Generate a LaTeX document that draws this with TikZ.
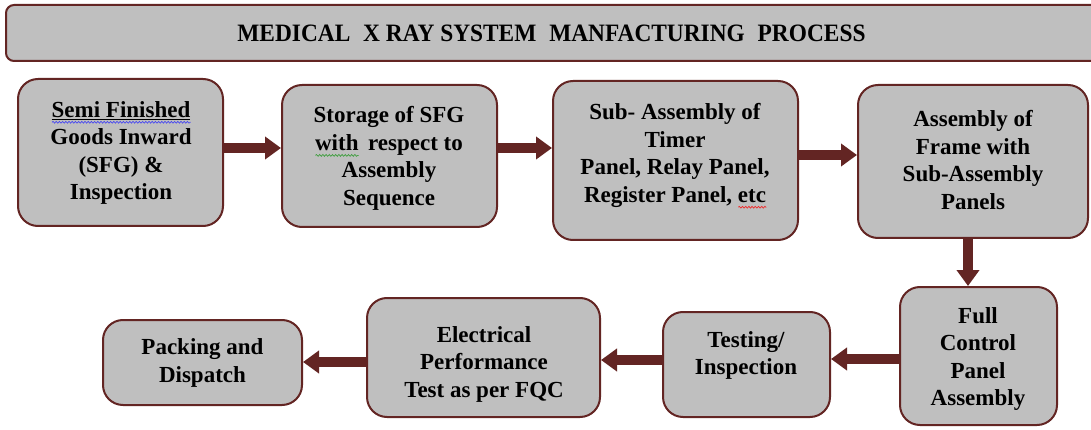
\documentclass[tikz,border=0pt]{standalone}
\usepackage{fontspec}
\setmainfont{Liberation Serif}
\usepackage{graphicx}
\usetikzlibrary{arrows.meta,decorations.pathmorphing}
\definecolor{brd}{HTML}{632523}
\definecolor{boxgray}{HTML}{BFBFBF}
\definecolor{wblue}{HTML}{4A4AF0}
\definecolor{wgreen}{HTML}{3E9E3E}
\definecolor{wred}{HTML}{F02828}
\newsavebox\sqbox
\newlength\sqlen
\newcommand\sqw[2]{\sbox\sqbox{#2}\setlength\sqlen{\wd\sqbox}%
  \rlap{\raisebox{-5pt}{\tikz[x=1pt,y=1pt,baseline=0pt]\draw[#1, line width=0.7pt, decorate, decoration={snake, amplitude=0.9pt, segment length=3.2pt}] (0pt,0pt) -- (\sqlen,0pt);}}\usebox\sqbox}
\begin{document}
\begin{tikzpicture}[x=1pt,y=-1pt,
  box/.style={draw=brd, line width=2pt, fill=boxgray, rounded corners=20pt, inner sep=0pt},
  titlebox/.style={draw=brd, line width=2pt, fill=boxgray, rounded corners=8pt, inner sep=0pt},
  txt/.style={font=\bfseries\fontsize{23}{27.5}\selectfont, align=center, inner sep=0pt},
  arr/.style={draw=brd, line width=9.5pt, -{Triangle[width=22pt,length=16pt]}}]
\useasboundingbox (0,0) rectangle (1091,430);
\clip (0,0) rectangle (1091,430);
% title
\node[titlebox, minimum width=1094pt, minimum height=56pt] (title) at (553,33) {};
\node[font=\bfseries\fontsize{25}{30}\selectfont, inner sep=0pt] (titletxt) at (551.5,33)
  {\scalebox{0.935}[1]{MEDICAL\hspace{0.3em} X RAY SYSTEM\hspace{0.3em} MANFACTURING\hspace{0.3em} PROCESS}};
% boxes
\node[box, minimum width=205pt, minimum height=147pt] (b1) at (120.5,152.5) {};
\node[box, minimum width=215pt, minimum height=142pt] (b2) at (389.5,156) {};
\node[box, minimum width=245pt, minimum height=159pt] (b3) at (675.5,160.5) {};
\node[box, minimum width=230pt, minimum height=153pt] (b4) at (973,161.5) {};
\node[box, minimum width=157pt, minimum height=138pt] (b5) at (978.5,356) {};
\node[box, minimum width=167pt, minimum height=105pt] (b6) at (746.5,364.5) {};
\node[box, minimum width=233pt, minimum height=119pt] (b7) at (483.5,357.5) {};
\node[box, minimum width=199pt, minimum height=85pt] (b8) at (202.5,362.5) {};
% texts
\node[txt] (t1) at (121,153) {\sqw{wblue}{\underline{Semi Finished}}\\Goods Inward\\(SFG) \&\\Inspection};
\node[txt] (t2) at (389,158.5) {Storage of SFG\\\sqw{wgreen}{with}\ \,respect to\\Assembly\\Sequence};
\node[txt] (t3) at (675,156) {Sub- Assembly of\\Timer\\Panel, Relay Panel,\\Register Panel, \sqw{wred}{etc}};
\node[txt] (t4) at (973,160) {Assembly of\\Frame with\\Sub-Assembly\\Panels};
\node[txt] (t5) at (978,359) {Full\\Control\\Panel\\Assembly};
\node[txt] (t6) at (746,355.5) {Testing/\\Inspection};
\node[txt] (t7) at (484,364) {Electrical\\Performance\\Test as per FQC};
\node[txt] (t8) at (202.5,363) {Packing and\\Dispatch};
% arrows
\draw[arr] (b1.east |- 0,148) -- (b2.west |- 0,148);
\draw[arr] (b2.east |- 0,148) -- (b3.west |- 0,148);
\draw[arr] (b3.east |- 0,155) -- (b4.west |- 0,155);
\draw[arr] (b4.south -| 968,0) -- (b5.north -| 968,0);
\draw[arr] (b5.west |- 0,359) -- (b6.east |- 0,359);
\draw[arr] (b6.west |- 0,360) -- (b7.east |- 0,360);
\draw[arr] (b7.west |- 0,362) -- (b8.east |- 0,362);
\end{tikzpicture}
\end{document}
